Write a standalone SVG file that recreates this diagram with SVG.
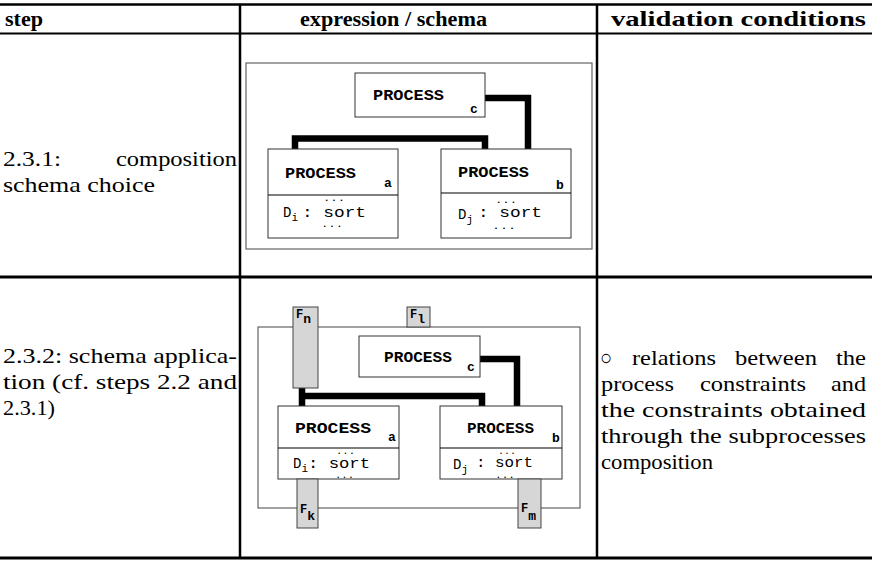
<svg xmlns="http://www.w3.org/2000/svg" width="872" height="561" viewBox="0 0 872 561">
<style>
.rule{stroke:#000;fill:none}
.frame{fill:#fff;stroke:#555;stroke-width:1.1}
.box{fill:#fff;stroke:#333;stroke-width:1}
.div{stroke:#000;stroke-width:1.2}
.port{fill:#d6d6d6;stroke:#444;stroke-width:1}
.conn{fill:none;stroke:#000;stroke-width:6.5;stroke-linejoin:miter}
.hd{font-family:"Liberation Serif","Times New Roman",serif;font-weight:bold;font-size:22px}
.tx{font-family:"Liberation Serif","Times New Roman",serif;font-size:21.5px}
.pn{font-family:"Liberation Mono","Courier New",monospace;font-weight:bold;font-size:15px}
.mn{font-family:"Liberation Mono","Courier New",monospace;font-size:14px}
.dt{font-family:"Liberation Mono","Courier New",monospace;font-size:9px}
.ms{font-family:"Liberation Mono","Courier New",monospace;font-size:11px}
.sb{font-family:"Liberation Mono","Courier New",monospace;font-weight:bold;font-size:13px}
.fl{font-family:"Liberation Mono","Courier New",monospace;font-weight:bold;font-size:12px}
</style>
<rect width="872" height="561" fill="#fff"/>
<g id="table">
<line class="rule" x1="0" y1="4.5" x2="872" y2="4.5" stroke-width="2.5"/>
<line class="rule" x1="0" y1="33.5" x2="872" y2="33.5" stroke-width="1.8"/>
<line class="rule" x1="0" y1="277" x2="872" y2="277" stroke-width="3"/>
<line class="rule" x1="0" y1="558" x2="872" y2="558" stroke-width="3"/>
<line class="rule" x1="240" y1="4" x2="240" y2="558" stroke-width="2.5"/>
<line class="rule" x1="597" y1="4" x2="597" y2="558" stroke-width="2.5"/>
<text class="hd" x="5" y="26" textLength="38" lengthAdjust="spacingAndGlyphs">step</text>
<text class="hd" x="300" y="26" textLength="187" lengthAdjust="spacingAndGlyphs">expression / schema</text>
<text class="hd" x="611" y="26" textLength="255" lengthAdjust="spacingAndGlyphs">validation conditions</text>
<text class="tx" x="3" y="166" textLength="58" lengthAdjust="spacingAndGlyphs">2.3.1:</text>
<text class="tx" x="116" y="166" textLength="121" lengthAdjust="spacingAndGlyphs">composition</text>
<text class="tx" x="3" y="192" textLength="152" lengthAdjust="spacingAndGlyphs">schema choice</text>
<text class="tx" x="3" y="363" textLength="234" lengthAdjust="spacingAndGlyphs">2.3.2: schema applica-</text>
<text class="tx" x="3" y="389" textLength="234" lengthAdjust="spacingAndGlyphs">tion (cf. steps 2.2 and</text>
<text class="tx" x="3" y="415" textLength="52" lengthAdjust="spacingAndGlyphs">2.3.1)</text>
<text class="tx" y="365"><tspan x="600" font-size="22" textLength="12" lengthAdjust="spacingAndGlyphs">○</tspan> <tspan x="632" textLength="84" lengthAdjust="spacingAndGlyphs">relations</tspan> <tspan x="735" textLength="82" lengthAdjust="spacingAndGlyphs">between</tspan> <tspan x="836" textLength="30" lengthAdjust="spacingAndGlyphs">the</tspan></text>
<text class="tx" y="391"><tspan x="601" textLength="73" lengthAdjust="spacingAndGlyphs">process</tspan> <tspan x="700" textLength="106" lengthAdjust="spacingAndGlyphs">constraints</tspan> <tspan x="831" textLength="35" lengthAdjust="spacingAndGlyphs">and</tspan></text>
<text class="tx" x="601" y="417" textLength="265" lengthAdjust="spacingAndGlyphs">the constraints obtained</text>
<text class="tx" x="601" y="443" textLength="265" lengthAdjust="spacingAndGlyphs">through the subprocesses</text>
<text class="tx" x="601" y="469" textLength="112" lengthAdjust="spacingAndGlyphs">composition</text>
</g>
<!-- row 1 schema -->
<g id="frame1"><rect class="frame" x="246" y="63" width="346" height="186"/></g>
<g id="connectors1">
<path class="conn" d="M295,149 V138.5 H485 V149"/>
<path class="conn" d="M485,98 H528 V149"/>
</g>
<g id="process-c1">
<rect class="box" x="355" y="73" width="130" height="44"/>
<text class="pn" x="373" y="100" textLength="71" lengthAdjust="spacingAndGlyphs">PROCESS</text>
<text class="sb" x="470" y="113">c</text>
</g>
<g id="process-a1">
<rect class="box" x="268" y="149" width="130" height="89"/>
<line class="div" x1="268" y1="195" x2="398" y2="195"/>
<text class="pn" x="285" y="178" textLength="71" lengthAdjust="spacingAndGlyphs">PROCESS</text>
<text class="sb" x="384" y="187">a</text>
<text class="dt" x="323" y="201" textLength="22" lengthAdjust="spacingAndGlyphs">...</text>
<text class="mn" x="283" y="217">D<tspan class="ms" dy="4">i</tspan><tspan dy="-4" x="302" textLength="64" lengthAdjust="spacingAndGlyphs">: sort</tspan></text>
<text class="dt" x="321" y="227" textLength="22" lengthAdjust="spacingAndGlyphs">...</text>
</g>
<g id="process-b1">
<rect class="box" x="441" y="149" width="130" height="89"/>
<line class="div" x1="441" y1="193" x2="571" y2="193"/>
<text class="pn" x="458" y="177" textLength="71" lengthAdjust="spacingAndGlyphs">PROCESS</text>
<text class="sb" x="556" y="189">b</text>
<text class="dt" x="495" y="203" textLength="22" lengthAdjust="spacingAndGlyphs">...</text>
<text class="mn" x="458" y="219">D<tspan class="ms" dy="4">j</tspan><tspan dy="-6" x="478" textLength="64" lengthAdjust="spacingAndGlyphs">: sort</tspan></text>
<text class="dt" x="492" y="229" textLength="24" lengthAdjust="spacingAndGlyphs">...</text>
</g>
<!-- row 2 schema -->
<g id="frame2"><rect class="frame" x="258" y="327" width="322" height="181"/></g>
<g id="connectors2">
<path class="conn" d="M302,388 V406 M302,396 H482 V406"/>
<path class="conn" d="M480,359 H517 V406"/>
</g>
<g id="process-c2">
<rect class="box" x="359" y="336" width="121" height="41"/>
<text class="pn" x="384" y="362" textLength="68" lengthAdjust="spacingAndGlyphs">PROCESS</text>
<text class="sb" x="467" y="371">c</text>
</g>
<g id="process-a2">
<rect class="box" x="278" y="406" width="121" height="73"/>
<line class="div" x1="278" y1="448" x2="399" y2="448"/>
<text class="pn" x="295" y="433" textLength="76" lengthAdjust="spacingAndGlyphs">PROCESS</text>
<text class="sb" x="388" y="441">a</text>
<text class="dt" x="336" y="454" textLength="19" lengthAdjust="spacingAndGlyphs">...</text>
<text class="mn" x="293" y="468">D<tspan class="ms" dy="4">i</tspan><tspan dy="-4" x="308" textLength="62" lengthAdjust="spacingAndGlyphs">: sort</tspan></text>
<text class="dt" x="335" y="478" textLength="19" lengthAdjust="spacingAndGlyphs">...</text>
</g>
<g id="process-b2">
<rect class="box" x="440" y="406" width="122" height="73"/>
<line class="div" x1="440" y1="448" x2="562" y2="448"/>
<text class="pn" x="467" y="433" textLength="67" lengthAdjust="spacingAndGlyphs">PROCESS</text>
<text class="sb" x="552" y="442">b</text>
<text class="dt" x="498" y="453.5" textLength="18" lengthAdjust="spacingAndGlyphs">...</text>
<text class="mn" x="453" y="469">D<tspan class="ms" dy="4">j</tspan><tspan dy="-6" x="476" textLength="57" lengthAdjust="spacingAndGlyphs">: sort</tspan></text>
<text class="dt" x="495" y="478" textLength="20" lengthAdjust="spacingAndGlyphs">...</text>
</g>
<g id="port-Fn">
<rect class="port" x="293" y="307" width="25" height="81"/>
<text class="fl" x="296" y="318">F<tspan class="sb" dy="5">n</tspan></text>
</g>
<g id="port-Fl">
<rect class="port" x="407" y="307" width="23" height="20"/>
<text class="fl" x="410" y="318">F<tspan class="sb" dy="5">l</tspan></text>
</g>
<g id="port-Fk">
<rect class="port" x="297" y="479" width="21" height="49"/>
<text class="fl" x="300" y="513">F<tspan class="sb" dy="7">k</tspan></text>
</g>
<g id="port-Fm">
<rect class="port" x="518" y="479" width="23" height="49"/>
<text class="fl" x="521" y="512">F<tspan class="sb" dy="8">m</tspan></text>
</g>
</svg>
